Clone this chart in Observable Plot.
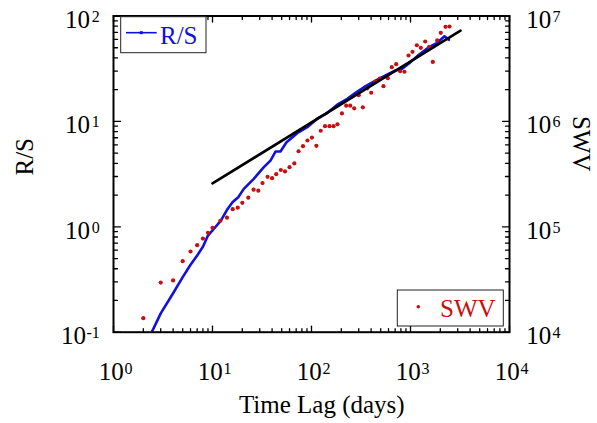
<!DOCTYPE html>
<html><head><meta charset="utf-8">
<script src="https://cdn.jsdelivr.net/npm/d3@7"></script>
<script src="https://cdn.jsdelivr.net/npm/@observablehq/plot@0.6"></script>
<style>body{margin:0;background:#fff}</style>
</head><body><div id="chart"></div>
<script>
// R/S analysis (left axis)
const rsLag = [2,3,4,5,6,7,8,9,10,12.2,14.1,15.9,18.2,20.7,26.1,33,38.5,43.3,48.6,55.9,71.7,90.5,114,144,182,230,278,338,443,559,705,825,1000,1213,1531,1862,2205,2437];
const rsValue = [0.068,0.151,0.234,0.333,0.436,0.534,0.646,0.826,0.923,1.15,1.46,1.71,1.91,2.29,2.85,3.68,4.25,5.18,5.18,6.35,7.73,8.81,10.6,12.0,14.4,16.4,18.7,21.1,24.4,27.3,30.4,31.6,36.5,42.9,50.6,55.7,64.3,59.4];
// SWV (right axis)
const swvLag = [2,3,4,5,6,7,8,9,10,12,14,16,18,20,23,26,29,32,36,40,44,49,54,60,67,74,82,91,101,112,124,137,152,167,183,203,224,246,270,300,330,365,401,440,490,533,590,647,717,787,869,955,1048,1158,1271,1407,1545,1680,1860,2023,2258,2477];
const swvValue = [13600,29600,31000,47200,58300,66900,77400,87700,97800,114000,122000,147000,152000,169000,189000,225000,220000,260000,298000,289000,316000,346000,335000,368000,399000,521000,582000,659000,703000,587000,815000,900000,900000,900000,940000,1190000,1410000,1410000,1330000,1770000,1360000,2060000,1870000,2390000,2550000,2160000,2570000,3270000,3490000,2990000,2960000,4220000,4570000,5280000,4990000,5730000,5100000,3670000,5860000,6930000,7900000,7950000];
// fitted power-law line (endpoints)
const fitLag = [10, 3200];
const fitValue = [2.58, 72.6];
// axes
const xMajor = [1, 10, 100, 1000, 10000];
const xExp = ["0", "1", "2", "3", "4"];
const yMajor = [0.1, 1, 10, 100];
const yExp = ["-1", "0", "1", "2"];
const swvExp = ["4", "5", "6", "7"];
const SWV_FACTOR = 1e5; // right axis = left axis x 1e5

const xMinor = [1, 10, 100, 1000].flatMap(d => [2,3,4,5,6,7,8,9].map(k => k * d));
const yMinor = [0.1, 1, 10].flatMap(d => [2,3,4,5,6,7,8,9].map(k => k * d));

const rsData = rsLag.map((x, i) => ({x, y: rsValue[i]}));
const swvData = swvLag.map((x, i) => ({x, y: swvValue[i] / SWV_FACTOR}));
const fitData = fitLag.map((x, i) => ({x, y: fitValue[i]}));

const spike = {draw(c, l) { c.moveTo(0, 0); c.lineTo(0, -l); }};
const tickMarks = (data, ch, anchor, rot, len) =>
  Plot.vector(data, {[ch]: d => d, frameAnchor: anchor, rotate: rot, length: len, anchor: "start", shape: spike, stroke: "black", strokeWidth: 1.3});

const BLUE = "#1010e0", RED = "#c80f0f";

const chart = Plot.plot({
  width: 597, height: 423,
  marginLeft: 113, marginRight: 88, marginTop: 15.5, marginBottom: 91.3,
  style: {fontFamily: "'Liberation Serif', 'Times New Roman', serif", background: "white", color: "black"},
  x: {type: "log", domain: [1, 10000], axis: null},
  y: {type: "log", domain: [0.1, 100], axis: null},
  marks: [
    Plot.line(rsData, {x: "x", y: "y", stroke: BLUE, strokeWidth: 2.6, clip: true}),
    Plot.dot(swvData, {x: "x", y: "y", r: 2.1, fill: RED, stroke: "none", clip: true}),
    Plot.line(fitData, {x: "x", y: "y", stroke: "black", strokeWidth: 2.6}),
    // ticks (inward)
    tickMarks(xMajor, "x", "bottom", 0, 6), tickMarks(xMinor, "x", "bottom", 0, 3.5),
    tickMarks(xMajor, "x", "top", 180, 6), tickMarks(xMinor, "x", "top", 180, 3.5),
    tickMarks(yMajor, "y", "left", 90, 7), tickMarks(yMinor, "y", "left", 90, 4),
    tickMarks(yMajor, "y", "right", -90, 7), tickMarks(yMinor, "y", "right", -90, 4),
    Plot.frame({stroke: "black", strokeWidth: 2}),
    // x tick labels
    Plot.text(xMajor, {x: d => d, frameAnchor: "bottom", text: () => "10", textAnchor: "end", dx: 10.3, dy: 47.3, lineAnchor: "bottom", fontSize: 25}),
    Plot.text(xMajor, {x: d => d, frameAnchor: "bottom", text: (d, i) => xExp[i], textAnchor: "start", dx: 11, dy: 41.3, lineAnchor: "bottom", fontSize: 16}),
    // left tick labels
    Plot.text(yMajor, {filter: d => d >= 1, y: d => d, frameAnchor: "left", text: () => "10", textAnchor: "end", dx: -23.5, dy: 12, lineAnchor: "bottom", fontSize: 25}),
    Plot.text(yMajor, {filter: d => d < 1, y: d => d, frameAnchor: "left", text: () => "10", textAnchor: "end", dx: -27.5, dy: 12, lineAnchor: "bottom", fontSize: 25}),
    Plot.text(yMajor, {y: d => d, frameAnchor: "left", text: (d, i) => yExp[i], textAnchor: "end", dx: -13.7, dy: 6, lineAnchor: "bottom", fontSize: 16}),
    // right tick labels (SWV)
    Plot.text(yMajor, {y: d => d, frameAnchor: "right", text: () => "10", textAnchor: "start", dx: 16.7, dy: 12, lineAnchor: "bottom", fontSize: 25}),
    Plot.text(yMajor, {y: d => d, frameAnchor: "right", text: (d, i) => swvExp[i], textAnchor: "start", dx: 43, dy: 6, lineAnchor: "bottom", fontSize: 16}),
    // axis titles
    Plot.text(["Time Lag (days)"], {text: d => d, frameAnchor: "bottom", dx: 10.3, dy: 81, lineAnchor: "bottom", fontSize: 25}),
    Plot.text(["R/S"], {text: d => d, frameAnchor: "left", rotate: -90, dx: -80.5, dy: 1.4, lineAnchor: "bottom", fontSize: 25}),
    Plot.text(["SWV"], {text: d => d, frameAnchor: "right", rotate: 90, dx: 63, dy: -2.6, lineAnchor: "bottom", fontSize: 25})
  ]
});
document.getElementById("chart").appendChild(chart);

// legends
const svg = d3.select(chart);
const g1 = svg.append("g").attr("text-anchor", "start");
g1.append("rect").attr("x", 120.7).attr("y", 16.7).attr("width", 85.3).attr("height", 36).attr("fill", "white").attr("stroke", "#222").attr("stroke-width", 1);
g1.append("line").attr("x1", 126).attr("x2", 156.7).attr("y1", 32.7).attr("y2", 32.7).attr("stroke", BLUE).attr("stroke-width", 1.6);
g1.append("rect").attr("x", 139.8).attr("y", 31.2).attr("width", 3).attr("height", 3).attr("fill", BLUE);
g1.append("text").attr("x", 160).attr("y", 44.3).attr("fill", BLUE).attr("font-size", 25).text("R/S");
const g2 = svg.append("g").attr("text-anchor", "start");
g2.append("rect").attr("x", 397.3).attr("y", 290).attr("width", 106).attr("height", 36).attr("fill", "white").attr("stroke", "#222").attr("stroke-width", 1);
g2.append("circle").attr("cx", 418.3).attr("cy", 306.7).attr("r", 1.8).attr("fill", RED);
g2.append("text").attr("x", 440).attr("y", 316.7).attr("fill", RED).attr("font-size", 25).text("SWV");
</script>
</body></html>
